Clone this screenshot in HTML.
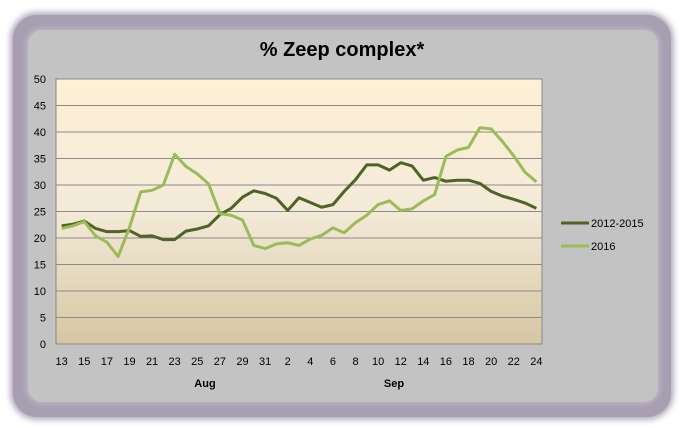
<!DOCTYPE html>
<html><head><meta charset="utf-8"><style>
body{margin:0;width:684px;height:428px;background:#fff;overflow:hidden;font-family:"Liberation Sans",sans-serif}
#frame{position:absolute;left:13px;top:15px;width:658px;height:402px;border-radius:24px;background:#a79eb1;box-shadow:0 0 6px 3px rgba(150,140,165,0.7)}
#inner{position:absolute;left:28px;top:30px;width:630px;height:372px;border-radius:14px;background:#c3c3c3;box-shadow:0 0 5px 3px rgba(185,180,195,0.9)}
svg{position:absolute;left:0;top:0}
</style></head><body>
<div id="frame"></div>
<div id="inner"></div>
<svg width="684" height="428" id="chart">
<defs><linearGradient id="bg" x1="0" y1="0" x2="0" y2="1"><stop offset="0" stop-color="#fef0d6"/><stop offset="0.5" stop-color="#f3ead8"/><stop offset="1" stop-color="#d6c6a2"/></linearGradient></defs>
<text x="342" y="56" text-anchor="middle" font-size="20" font-weight="bold" fill="#000">% Zeep complex*</text>
<rect x="56" y="79" width="486" height="265" fill="url(#bg)" stroke="#888" stroke-width="1"/>
<g id="grid"></g><g id="yt"></g><g id="xt"></g><g id="lines"></g>
<text x="205" y="387" text-anchor="middle" font-size="11" font-weight="bold">Aug</text>
<text x="394" y="387" text-anchor="middle" font-size="11" font-weight="bold">Sep</text>
<g>
<line x1="561" y1="223" x2="589" y2="223" stroke="#4f6228" stroke-width="3"/>
<text x="591" y="227" font-size="11">2012-2015</text>
<line x1="561" y1="246" x2="589" y2="246" stroke="#9bbb59" stroke-width="3"/>
<text x="591" y="250" font-size="11">2016</text>
</g>
</svg>
<script>
const categories=["13","14","15","16","17","18","19","20","21","22","23","24","25","26","27","28","29","30","31","1","2","3","4","5","6","7","8","9","10","11","12","13","14","15","16","17","18","19","20","21","22","23","24"];
const series2012=[22.3,22.6,23.2,21.8,21.2,21.2,21.4,20.3,20.4,19.7,19.7,21.3,21.7,22.3,24.4,25.6,27.7,28.9,28.4,27.5,25.2,27.6,26.7,25.8,26.3,28.8,31.0,33.8,33.8,32.8,34.2,33.6,30.9,31.4,30.7,30.9,30.9,30.3,28.8,27.9,27.3,26.6,25.6];
const series2016=[21.8,22.3,23.1,20.4,19.2,16.5,22.0,28.7,29.0,30.0,35.8,33.5,32.1,30.2,24.6,24.3,23.4,18.6,18.0,18.9,19.1,18.6,19.8,20.5,21.9,21.0,22.9,24.3,26.3,27.0,25.2,25.5,27.0,28.2,35.4,36.6,37.1,40.8,40.6,38.2,35.5,32.4,30.6];
const yTicks=[0,5,10,15,20,25,30,35,40,45,50];
const NS="http://www.w3.org/2000/svg";
const L=56,R=542,T=79,B=344;
const step=(R-L)/categories.length;
const xs=i=>L+step*(i+0.5);
const ys=v=>B-(v/50)*(B-T);
const grid=document.getElementById('grid'),yt=document.getElementById('yt'),xt=document.getElementById('xt'),lines=document.getElementById('lines');
yTicks.forEach(v=>{
 if(v>0&&v<50){const l=document.createElementNS(NS,'line');
 
 
 l.setAttribute('x1',L);l.setAttribute('x2',R);l.setAttribute('y1',ys(v));l.setAttribute('y2',ys(v));l.setAttribute('stroke','#8a8a8a');l.setAttribute('stroke-width','1');grid.appendChild(l);}
 const t=document.createElementNS(NS,'text');
 
 
 t.setAttribute('x',46);t.setAttribute('y',ys(v)+4);t.setAttribute('text-anchor','end');t.setAttribute('font-size','11');t.textContent=v;yt.appendChild(t);
});
categories.forEach((c,i)=>{
 if(i%2) return;
 const t=document.createElementNS(NS,'text');
 
 
 t.setAttribute('x',xs(i));t.setAttribute('y',365);t.setAttribute('text-anchor','middle');t.setAttribute('font-size','11');t.textContent=c;xt.appendChild(t);
});
function draw(data,color,name){
 const p=document.createElementNS(NS,'polyline');
 
 
 p.setAttribute('points',data.map((v,i)=>xs(i)+','+ys(v)).join(' '));
 p.setAttribute('fill','none');p.setAttribute('stroke',color);p.setAttribute('stroke-width','3');p.setAttribute('stroke-linejoin','round');
 lines.appendChild(p);
}
draw(series2012,'#4f6228','line-2012-2015');
draw(series2016,'#9bbb59','line-2016');
</script>
</body></html>
